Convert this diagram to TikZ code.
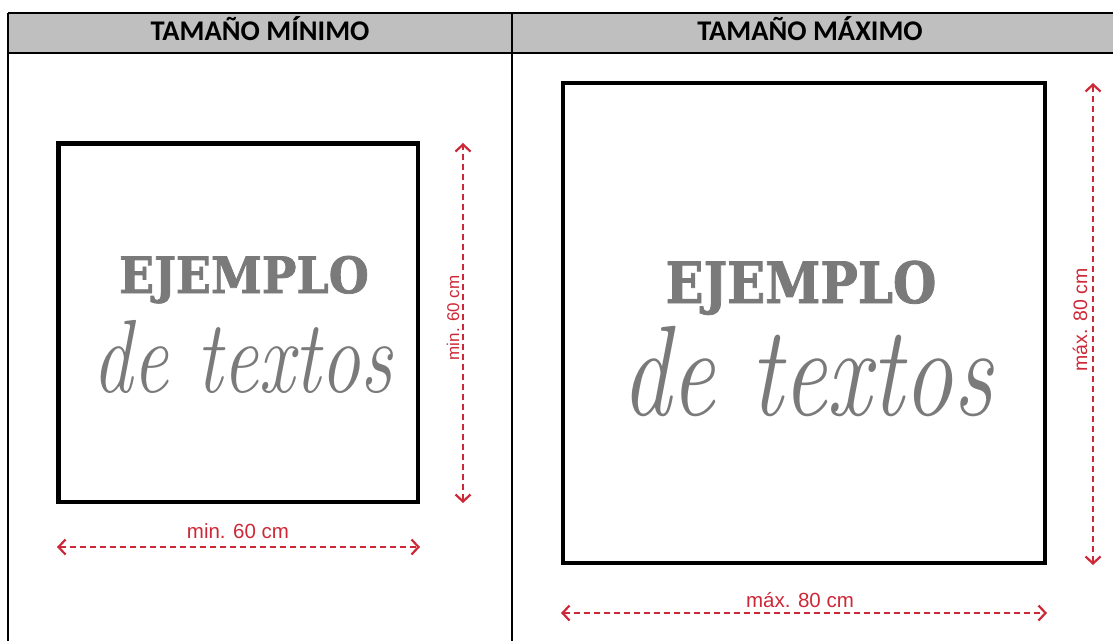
\documentclass[tikz,border=0pt]{standalone}
\usepackage{fontspec}
\setmainfont{Carlito}
\newfontfamily\hdrfont{Carlito}
\newfontfamily\dimfont{Liberation Sans}
\newfontfamily\slabfont[BoldFeatures={FakeBold=1.5}]{DejaVu Serif}
\newfontfamily\scrfont{Latin Modern Roman}
\usetikzlibrary{arrows.meta}
\definecolor{hdrgray}{HTML}{BFBFBF}
\definecolor{dimred}{RGB}{205,40,55}
\definecolor{txtgray}{HTML}{7A7A7A}
\begin{document}
\begin{tikzpicture}[x=1pt,y=-1pt,
  tline/.style={line width=1.6pt, black},
  bigbox/.style={line width=4.4pt, black},
  dimline/.style={draw=dimred, line width=2pt, dash pattern=on 6.5pt off 3.5pt,
    {Straight Barb[length=7pt,width=15pt,line width=2.2pt]}-{Straight Barb[length=7pt,width=15pt,line width=2.2pt]}},
  dimlbl/.style={text=dimred, inner sep=0pt, anchor=base},
  hdr/.style={font=\hdrfont\bfseries\fontsize{28.5}{32}\selectfont, inner sep=0pt, anchor=base},
  slab/.style={text=txtgray, inner sep=0pt, anchor=base, text depth=0pt},
  scr/.style={text=txtgray, inner sep=0pt, anchor=base, text height=0.66em}]
\useasboundingbox (0,0) rectangle (1113,641);
% table
\fill[hdrgray] (8,13) rectangle (1113,53);
\coordinate (tl) at (8,13);
\coordinate (tr) at (1113,13);
\coordinate (hl) at (8,53);
\coordinate (hr) at (1113,53);
\coordinate (bl) at (8,641);
\coordinate (dt) at (512,13);
\coordinate (db) at (512,641);
\draw[tline] (tl) -- (tr);
\draw[tline] (hl) -- (hr);
\draw[tline] (tl) -- (bl);
\draw[tline] (dt) -- (db);
\node[hdr] (hmin) at (260,40) {TAMAÑO MÍNIMO};
\node[hdr] (hmax) at (810,40) {TAMAÑO MÁXIMO};
% left box
\coordinate (L1) at (58.5,143.5);
\coordinate (L2) at (418,502);
\draw[bigbox] (L1) rectangle (L2);
\node[slab, font=\slabfont\bfseries\fontsize{50}{60}\selectfont, xscale=0.92] (ej1) at (244,293) {EJEMPLO};
\node[scr, font=\scrfont\itshape\fontsize{80}{90}\selectfont, yscale=1.3] (dt1) at (242,392) {de textos};
\coordinate (lvt) at (463,143);
\coordinate (lvb) at (463,503);
\draw[dimline] (lvb) -- (lvt);
\node[dimlbl, rotate=90, font=\dimfont\fontsize{17}{20}\selectfont] (lvl) at (459,318) {min. 60 cm};
\coordinate (lhl) at (57,547);
\coordinate (lhr) at (420,547);
\draw[dimline] (lhl) -- (lhr);
\node[dimlbl, font=\dimfont\fontsize{20.5}{24}\selectfont] (lhlab) at (238,538) {min. 60 cm};
% right box
\coordinate (R1) at (563,83);
\coordinate (R2) at (1045,563);
\draw[bigbox] (R1) rectangle (R2);
\node[slab, font=\slabfont\bfseries\fontsize{57}{66}\selectfont, xscale=0.875] (ej2) at (801,303) {EJEMPLO};
\node[scr, font=\scrfont\itshape\fontsize{99}{109}\selectfont, yscale=1.3] (dt2) at (807,415) {de textos};
\coordinate (rvt) at (1093,83);
\coordinate (rvb) at (1093,565);
\draw[dimline] (rvb) -- (rvt);
\node[dimlbl, rotate=90, font=\dimfont\fontsize{19.5}{23}\selectfont] (rvl) at (1087,320) {máx. 80 cm};
\coordinate (rhl) at (561,613);
\coordinate (rhr) at (1047,613);
\draw[dimline] (rhl) -- (rhr);
\node[dimlbl, font=\dimfont\fontsize{20.5}{24}\selectfont] (rhlab) at (800,607) {máx. 80 cm};
\end{tikzpicture}
\end{document}
